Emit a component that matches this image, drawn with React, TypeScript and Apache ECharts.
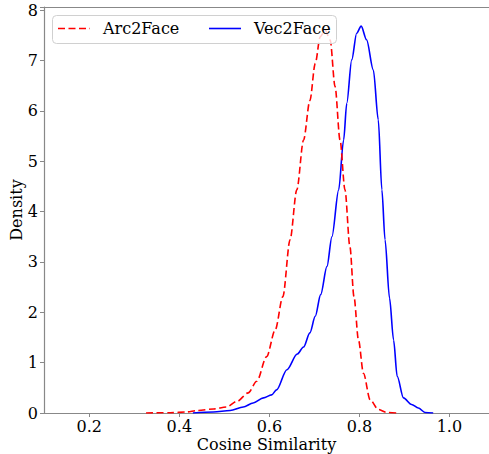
import React, { useEffect, useRef } from "react";
import * as echarts from "echarts";

const arcX = [0.326, 0.38, 0.416, 0.44, 0.476, 0.505, 0.528, 0.553, 0.572, 0.594, 0.613, 0.63, 0.646, 0.661, 0.676, 0.69, 0.702, 0.713, 0.724, 0.735, 0.746, 0.757, 0.768, 0.779, 0.788, 0.798, 0.809, 0.824, 0.842, 0.861, 0.883];
const arcY = [0, 0.005, 0.02, 0.05, 0.08, 0.12, 0.23, 0.4, 0.63, 1.12, 1.65, 2.31, 3.44, 4.43, 5.42, 6.2, 6.94, 7.47, 7.6, 7.41, 6.48, 5.42, 4.43, 3.3, 2.31, 1.45, 0.79, 0.26, 0.07, 0.01, 0];

const vecX = [0.43, 0.476, 0.513, 0.542, 0.564, 0.587, 0.605, 0.616, 0.639, 0.662, 0.676, 0.69, 0.702, 0.714, 0.728, 0.739, 0.754, 0.765, 0.772, 0.783, 0.794, 0.804, 0.816, 0.831, 0.842, 0.85, 0.857, 0.867, 0.876, 0.884, 0.898, 0.916, 0.931, 0.946, 0.964];
const vecY = [0, 0.02, 0.05, 0.12, 0.2, 0.3, 0.36, 0.46, 0.86, 1.17, 1.31, 1.59, 1.92, 2.35, 2.91, 3.5, 4.43, 5.42, 6.15, 7.01, 7.54, 7.68, 7.41, 6.81, 5.82, 4.43, 3.44, 2.28, 1.45, 0.73, 0.3, 0.17, 0.1, 0.01, 0];

const xTicks = [0.2, 0.4, 0.6, 0.8, 1.0];
const seriesNames = ["Arc2Face", "Vec2Face"];
const seriesColors = ["#ff0000", "#0000ff"];

const FONT = "DejaVu Serif";
const SPINE = "#888";

export default function App() {
  const ref = useRef<HTMLDivElement>(null);
  useEffect(() => {
    if (!ref.current) return;
    const chart = echarts.init(ref.current, undefined, { renderer: "svg" });
    const zip = (xs: number[], ys: number[]) => xs.map((x, i) => [x, ys[i]]);
    const legendY = 28.5;
    chart.setOption({
      animation: false,
      backgroundColor: "#fff",
      textStyle: { fontFamily: FONT },
      grid: { left: 44, right: 0, top: 7, bottom: 41, containLabel: false, outerBoundsMode: "none" },
      graphic: [
        {
          type: "rect",
          z: 100,
          shape: { x: 52.5, y: 15.5, width: 284, height: 28, r: 4 },
          style: { fill: "rgba(255,255,255,0.8)", stroke: "#d0d0d0", lineWidth: 1 },
        },
        {
          type: "line",
          z: 101,
          shape: { x1: 58, y1: legendY, x2: 90, y2: legendY },
          style: { stroke: seriesColors[0], lineWidth: 1.6, lineDash: [7, 3.5] },
        },
        {
          type: "text",
          z: 101,
          x: 103,
          y: legendY,
          style: { text: seriesNames[0], fontFamily: FONT, fontSize: 16, fill: "#000", verticalAlign: "middle", align: "left" },
        },
        {
          type: "line",
          z: 101,
          shape: { x1: 209, y1: legendY, x2: 241, y2: legendY },
          style: { stroke: seriesColors[1], lineWidth: 1.6 },
        },
        {
          type: "text",
          z: 101,
          x: 254,
          y: legendY,
          style: { text: seriesNames[1], fontFamily: FONT, fontSize: 16, fill: "#000", verticalAlign: "middle", align: "left" },
        },
      ],
      xAxis: [
        {
          type: "value",
          min: 0.0993,
          max: 1.088,
          name: "Cosine Similarity",
          nameLocation: "middle",
          nameGap: 23,
          nameMoveOverlap: false,
          nameTextStyle: { fontFamily: FONT, fontSize: 16, color: "#000" },
          splitLine: { show: false },
          axisLine: { show: true, onZero: false, lineStyle: { color: SPINE, width: 1.2 } },
          axisTick: { show: true, length: 4, customValues: xTicks, lineStyle: { color: SPINE } },
          axisLabel: {
            customValues: xTicks,
            margin: 5,
            fontFamily: FONT,
            fontSize: 16,
            color: "#000",
            formatter: (v: number) => v.toFixed(1),
          },
        },
        {
          type: "value",
          position: "top",
          min: 0.0993,
          max: 1.088,
          splitLine: { show: false },
          axisLine: { show: true, onZero: false, lineStyle: { color: SPINE, width: 1.2 } },
          axisTick: { show: false },
          axisLabel: { show: false },
        },
      ],
      yAxis: {
        type: "value",
        min: 0,
        max: 8.06,
        interval: 1,
        name: "Density",
        nameLocation: "middle",
        nameGap: 20,
        nameMoveOverlap: false,
        nameRotate: 90,
        nameTextStyle: { fontFamily: FONT, fontSize: 16, color: "#000" },
        splitLine: { show: false },
        axisLine: { show: true, lineStyle: { color: SPINE, width: 1.2 } },
        axisTick: { show: true, length: 4, lineStyle: { color: SPINE } },
        axisLabel: {
          margin: 6,
          fontFamily: FONT,
          fontSize: 16,
          color: "#000",
          formatter: (v: number) => (Number.isInteger(v) ? String(v) : ""),
        },
      },
      series: [
        {
          name: seriesNames[0],
          type: "line",
          data: zip(arcX, arcY),
          showSymbol: false,
          symbol: "none",
          smooth: 0.3,
          smoothMonotone: "x",
          lineStyle: { color: seriesColors[0], width: 1.6, type: [7, 3.5] },
          itemStyle: { color: seriesColors[0] },
          z: 3,
        },
        {
          name: seriesNames[1],
          type: "line",
          data: zip(vecX, vecY),
          showSymbol: false,
          symbol: "none",
          smooth: 0.3,
          smoothMonotone: "x",
          lineStyle: { color: seriesColors[1], width: 1.6 },
          itemStyle: { color: seriesColors[1] },
          z: 2,
        },
      ],
    });
    return () => chart.dispose();
  }, []);
  return (
    <div
      ref={ref}
      style={{ position: "fixed", left: 0, top: 0, width: 489, height: 454 }}
    />
  );
}
